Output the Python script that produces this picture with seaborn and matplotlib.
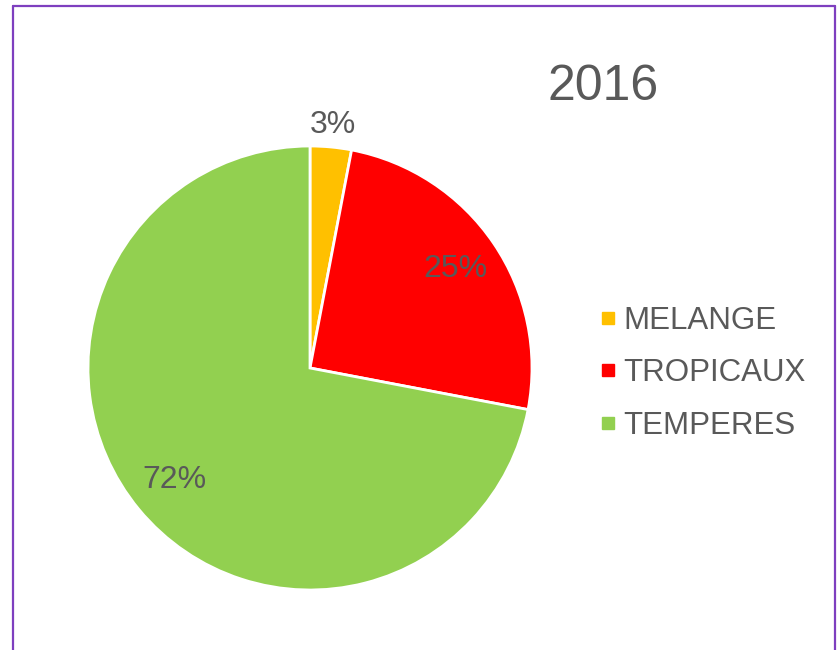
import numpy as np
import matplotlib
matplotlib.use("Agg")
import matplotlib.pyplot as plt
from matplotlib.lines import Line2D
import seaborn as sns

categories = ["MELANGE", "TROPICAUX", "TEMPERES"]
values = [3, 25, 72]
colors = ["#FFC000", "#FF0000", "#92D050"]
title = "2016"

sns.set_theme(style="white")
plt.rcParams['font.family'] = ['Liberation Sans', 'DejaVu Sans']
text_color = "#595959"

fig = plt.figure(figsize=(8.4, 6.5), dpi=100)
fig.patch.set_facecolor("white")

ax = fig.add_axes([88/840, 60/650, 444/840, 444/650])
wedges, texts, autotexts = ax.pie(
    values, colors=colors, startangle=90, counterclock=False,
    autopct=lambda p: f"{p:.0f}%", pctdistance=0.79,
    wedgeprops=dict(edgecolor="white", linewidth=2),
    textprops=dict(color=text_color, fontsize=23),
)
ax.set_xlim(-1, 1)
ax.set_ylim(-1, 1)
ax.set_aspect("equal")
ax.axis("off")

# small slice label outside
for w, t, v in zip(wedges, autotexts, values):
    if v < 5:
        ang = np.deg2rad((w.theta1 + w.theta2) / 2)
        t.set_position((1.10 * np.cos(ang), 1.10 * np.sin(ang)))

fig.text(603/840, 1 - 87/650, title, ha="center", va="center",
         fontsize=36, color=text_color)

handles = [Line2D([0], [0], marker="s", linestyle="none", markersize=9,
                  markerfacecolor=c, markeredgecolor=c) for c in colors]
leg = fig.legend(handles, categories, loc="center left",
                 bbox_to_anchor=(600/840, 1 - 373/650), frameon=False,
                 fontsize=22.5, labelcolor=text_color, handlelength=0.5,
                 handletextpad=0.25, labelspacing=0.72, borderpad=0,
                 borderaxespad=0)

# purple frame (top, left, right)
pc = "#7E3FBF"
lw = 1.6
fig.add_artist(Line2D([13/840, 13/840], [0, 1 - 6/650], color=pc, lw=lw, transform=fig.transFigure))
fig.add_artist(Line2D([835/840, 835/840], [0, 1 - 6/650], color=pc, lw=lw, transform=fig.transFigure))
fig.add_artist(Line2D([13/840, 835/840], [1 - 6/650, 1 - 6/650], color=pc, lw=lw, transform=fig.transFigure))

fig.savefig("out.png", dpi=100, facecolor="white")
